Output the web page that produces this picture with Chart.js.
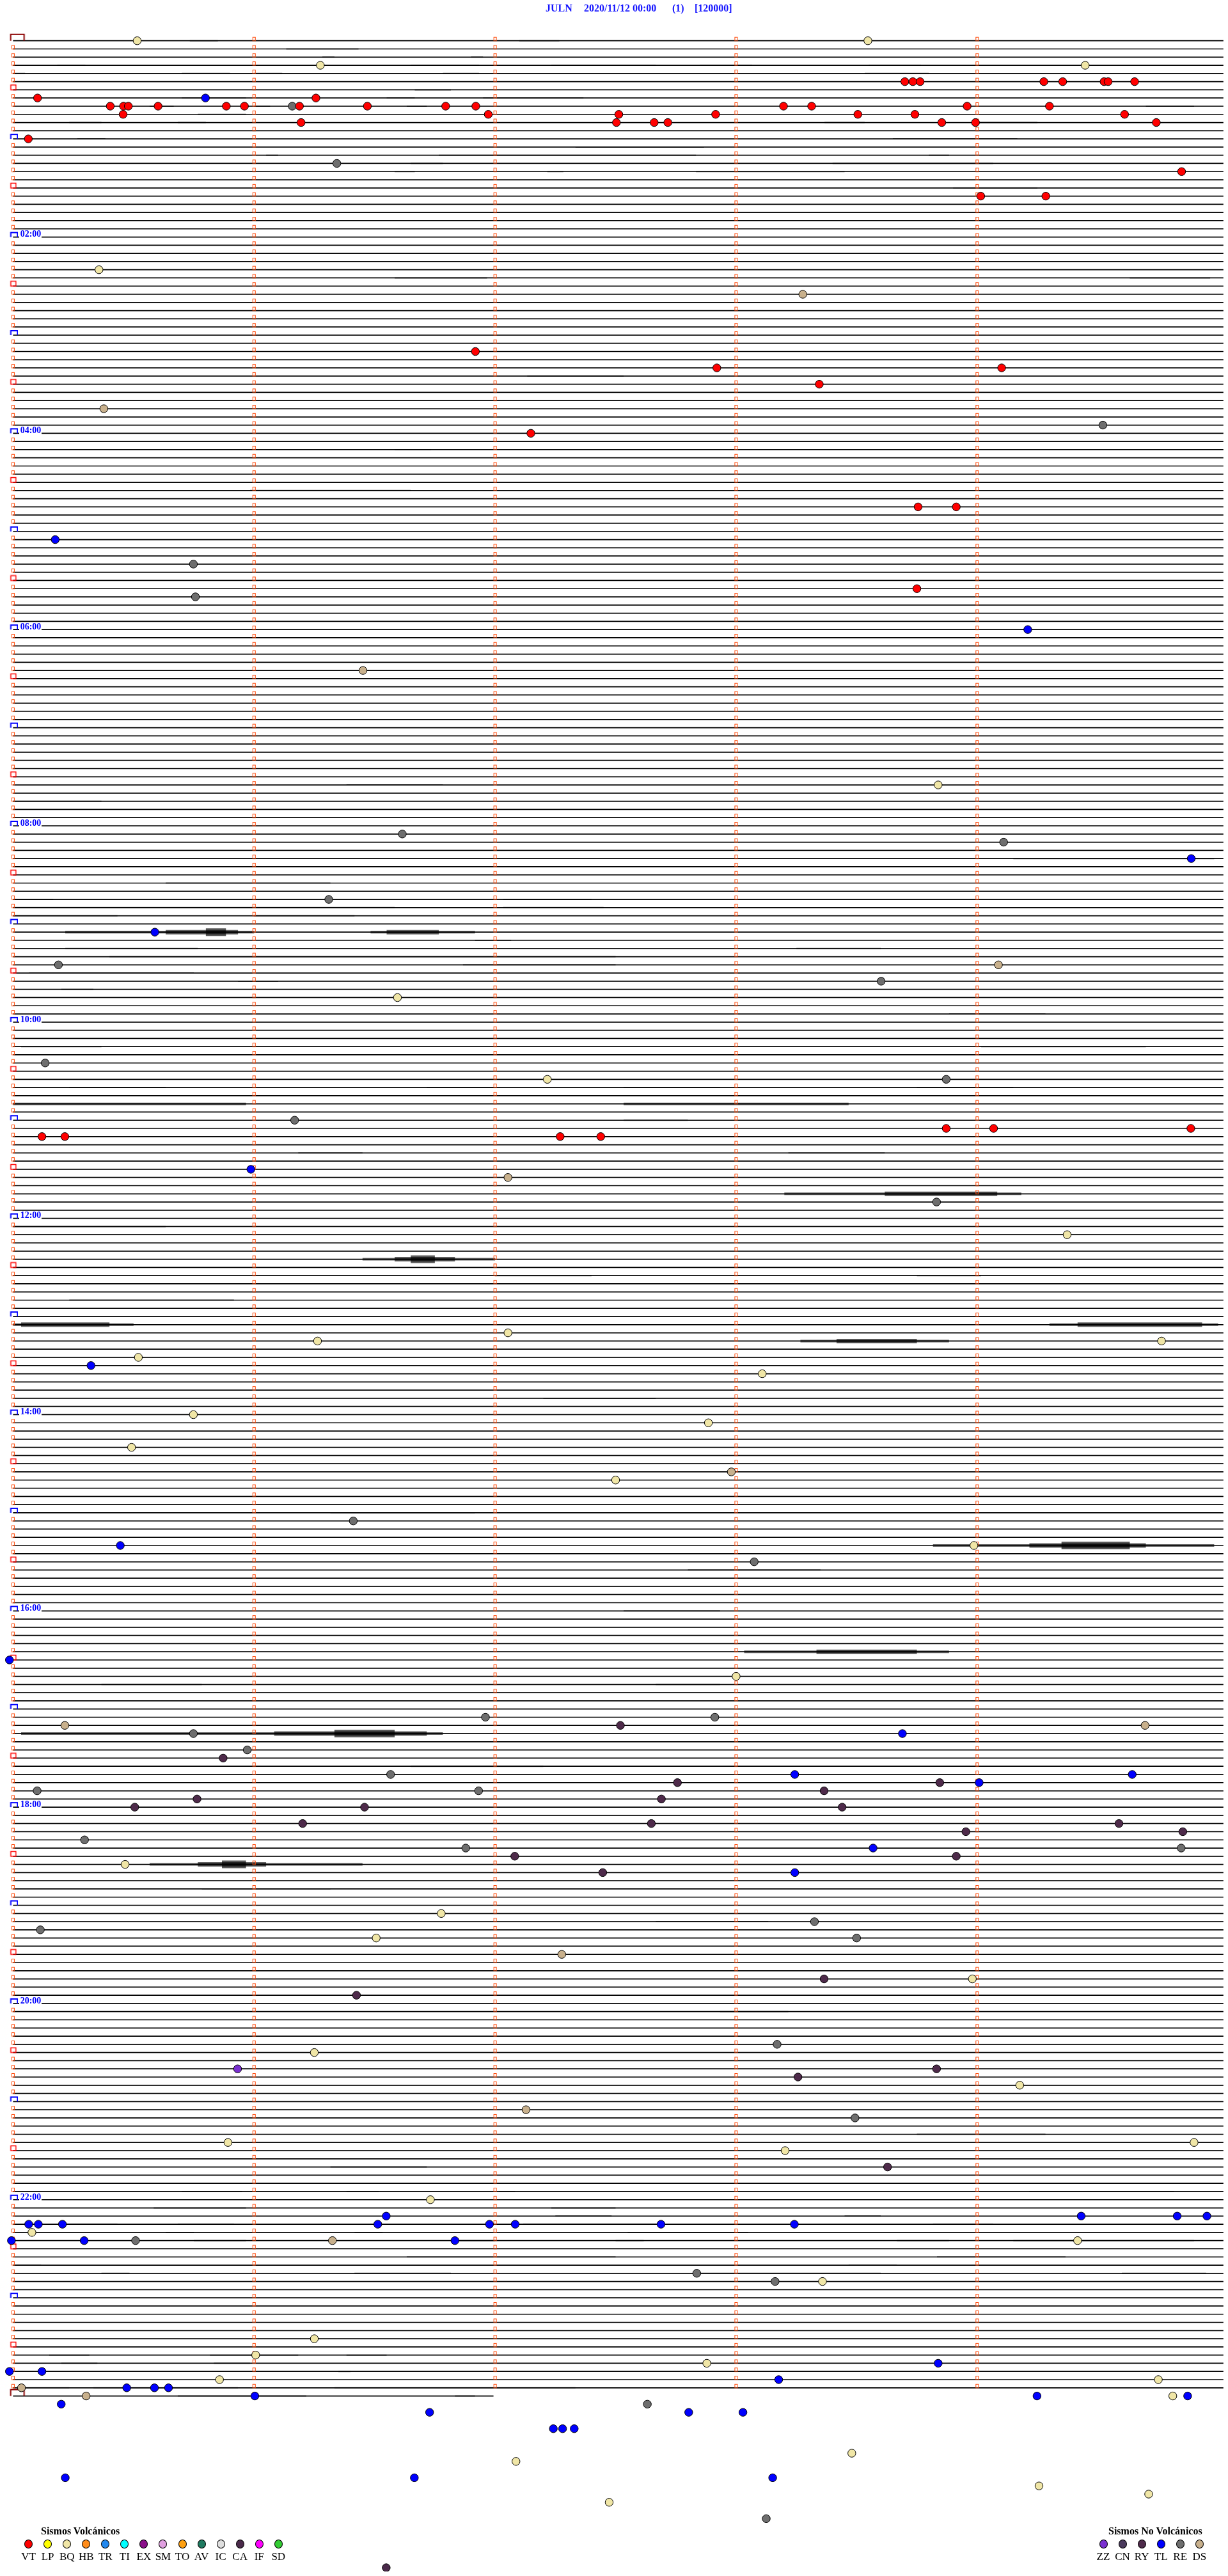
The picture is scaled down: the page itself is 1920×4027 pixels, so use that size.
<!DOCTYPE html>
<html>
<head>
<meta charset="utf-8">
<script src="https://cdn.jsdelivr.net/npm/chart.js@4.4.1/dist/chart.umd.min.js"></script>
<style>
  body { margin: 0; background: #fff; }
  #wrap { position: relative; width: 1920px; height: 4027px; overflow: hidden; }
  #c { position: absolute; left: 0; top: 0; }
  .t { position: absolute; font-family: "Liberation Serif", "Times New Roman", serif; white-space: nowrap; }
  .dot { position: absolute; width: 11px; height: 12px; border: 1px solid #000; border-radius: 50%; }
</style>
</head>
<body>
<div id="wrap"><canvas id="c" width="1920" height="4027"></canvas></div>
<script>
// one trace = 5 minutes (0..300 s), 288 traces + the start of the next day
const FULL_LINES = 288;
const LAST_LINE_END = 119.6;
const MINUTE_TICKS = [0, 60, 120, 180, 240];
const HOUR_LABELS = ['02:00', '04:00', '06:00', '08:00', '10:00', '12:00', '14:00', '16:00', '18:00', '20:00', '22:00'];

const CODES_V = ['VT', 'LP', 'BQ', 'HB', 'TR', 'TI', 'EX', 'SM', 'TO', 'AV', 'IC', 'CA', 'IF', 'SD'];
const COLORS_V = ['#ff0000', '#ffff00', '#f0e6a6', '#ff8c1a', '#2288ee', '#00ffff', '#8b108b', '#e0a0e0', '#ffa010', '#1f7a60', '#dedede', '#4a2a4a', '#ff00ff', '#33cc33'];
const CODES_N = ['ZZ', 'CN', 'RY', 'TL', 'RE', 'DS'];
const COLORS_N = ['#7a30d0', '#4a3a5c', '#4e2a4a', '#0000ff', '#6e6e6e', '#c8b08c'];

// events: [trace, seconds]
const eventsVT = [
  [5,222.0],[5,224.0],[5,225.8],[5,256.6],[5,261.3],[5,271.6],[5,272.6],[5,279.2],
  [7,6.1],[7,75.4],
  [8,24.2],[8,27.5],[8,28.7],[8,36.1],[8,53.1],[8,57.6],[8,71.3],[8,88.2],[8,107.7],[8,115.2],[8,191.8],[8,198.8],[8,237.5],[8,258.0],
  [9,27.4],[9,118.3],[9,150.8],[9,174.9],[9,210.3],[9,224.5],[9,276.7],
  [10,71.7],[10,150.2],[10,159.6],[10,163.0],[10,231.2],[10,239.6],[10,284.6],
  [12,3.8],[16,290.9],[19,240.9],[19,257.1],[38,115.1],[40,175.2],[40,246.1],[42,200.7],[48,128.9],
  [57,225.3],[57,234.8],[67,225.0],
  [133,232.3],[133,244.1],[133,293.2],[134,7.2],[134,12.9],[134,136.2],[134,146.3]
];
const eventsTL = [
  [7,47.9],[61,10.5],[72,252.6],[100,293.3],[109,35.3],[138,59.2],[162,19.4],[184,26.7],[198,-0.9],
  [207,221.4],[212,194.6],[212,278.6],[213,240.5],[221,214.1],[224,194.6],
  [266,92.9],[266,265.9],[266,289.8],[266,297.2],
  [267,3.9],[267,6.3],[267,12.3],[267,90.8],[267,118.6],[267,125.0],[267,161.3],[267,194.5],
  [269,-0.4],[269,17.7],[269,110.0],[284,230.3],[285,-0.9],[285,7.2],[286,190.6],
  [287,28.3],[287,35.2],[287,38.7],[288,60.2],[288,254.9],[288,292.4],
  [289,12.0],[290,103.7],[290,168.2],[290,181.7],[292,134.5],[292,136.8],[292,139.7],
  [298,13.0],[298,99.9],[298,189.1]
];
const eventsRE = [
  [8,69.5],[15,80.6],[47,271.3],[64,44.9],[68,45.4],[97,96.9],[98,246.6],[105,78.6],[113,11.3],[115,216.1],
  [125,8.0],[127,232.3],[132,70.1],[142,229.9],[181,84.7],[186,184.5],[205,117.6],[205,174.7],[207,44.9],
  [209,58.3],[212,94.0],[214,6.0],[214,115.9],[220,17.8],[221,290.8],[221,112.7],[230,199.5],[231,6.8],
  [232,210.0],[245,190.2],[254,209.6],[269,30.5],[273,170.2],[274,189.7],[289,157.9],[303,187.5]
];
const eventsDS = [
  [31,196.6],[45,22.6],[77,87.1],[113,245.3],[139,123.2],[175,178.8],[206,12.9],[206,281.8],
  [234,136.6],[253,127.7],[269,79.5],[287,2.1],[288,18.2]
];
const eventsBQ = [
  [0,30.9],[0,212.8],[3,76.5],[3,266.9],[28,21.4],[91,230.3],[117,95.7],[127,133.0],[146,262.4],
  [158,123.2],[159,75.8],[159,285.9],[161,31.2],[163,186.5],[168,44.9],[169,173.1],[172,29.5],
  [176,150.0],[184,239.2],[200,180.0],[223,27.9],[229,106.6],[232,90.4],[237,238.8],[246,75.0],
  [250,250.6],[257,53.5],[257,294.0],[258,192.2],[264,103.9],[268,4.7],[269,265.0],[274,201.5],
  [281,75.0],[283,60.4],[284,172.7],[286,51.4],[286,285.1],[288,288.7],[295,208.8],[296,125.2],
  [299,255.4],[300,282.7],[301,148.4]
];
const eventsRY = [
  [206,151.2],[210,52.3],[213,165.4],[213,230.7],[214,201.9],[215,161.4],[215,45.8],[216,30.3],
  [216,87.5],[216,206.4],[218,158.9],[218,275.3],[218,72.1],[219,237.2],[219,291.2],[222,124.9],
  [222,234.8],[224,146.8],[237,201.9],[239,85.5],[248,229.9],[249,195.4],[260,217.7]
];
const eventsZZ = [[248,55.9]];
const eventsCA = [[309,92.9]];

// signal bursts: [trace, start s, end s]
const noiseLight = [
  [0,44,51],[0,126,136],[1,68,86],[2,77,80],[2,114,117],[3,11,18],[3,99,116],[3,134,160],[3,171,184],[3,213,226],
  [4,0,3],[4,42,54],[4,60,67],[4,107,116],[4,212,228],[6,100,109],[7,42,58],[7,93,100],[7,117,142],
  [8,34,40],[8,60,64],[8,98,103],[8,282,294],[9,46,58],[10,14,22],[10,41,48],[10,202,212],[10,239,255],
  [12,16,23],[12,219,250],[13,140,172],[14,63,66],[14,106,170],[14,228,233],[15,99,107],[15,204,244],
  [16,95,100],[16,133,137],[16,170,207],[18,234,255],
  [29,95,118],[29,278,298],[41,128,152],[50,95,104],[55,59,99],[91,83,107],[93,0,22],[100,249,299],[103,38,79],
  [105,0,10],[105,122,144],[106,0,95],[106,122,147],[107,0,26],[107,60,85],[110,115,124],[111,13,46],
  [111,195,216],[112,24,150],[113,112,150],[114,4,45],[115,56,66],[116,12,20],
  [119,233,257],[123,2,22],[123,241,282],[128,14,38],[128,103,120],[128,152,176],[128,225,249],[132,152,168],
  [136,71,87],[136,193,217],[145,0,38],[151,120,144],[151,225,241],[154,14,55],[166,132,160],[180,79,115],
  [187,168,201],[192,152,176],[201,22,47],[201,160,176],[211,99,132],[226,47,79],[230,160,188],[241,176,193],
  [256,225,257],[260,79,103],
  [263,42,57],[263,83,91],[263,121,125],[263,253,289],[265,35,58],[265,134,150],[266,135,149],[266,207,216],
  [267,12,26],[267,41,55],[267,127,162],[267,229,244],[268,38,45],[268,85,92],[268,153,183],
  [269,45,58],[269,111,120],[269,150,157],[269,220,233],[269,249,294],[271,98,150],[271,230,262],
  [272,0,7],[272,208,220],[273,22,29],[273,85,109],[273,170,216],[273,276,297],
  [283,9,19],[283,49,71],[283,83,93],[284,12,21],[284,50,59],[285,81,84],
  [287,3,14],[287,20,56],[287,80,140],[288,41,73],[288,110,115]
];
const noiseMedium = [
  [109,13,60],[109,89,115],[130,0,58],[130,152,208],[141,192,251],[149,87,120],[157,0,30],[157,258,300],
  [159,196,233],[184,229,299],[197,182,233],[207,2,107],[223,34,87]
];
const noiseStrong = [
  [109,38,56],[109,93,106],[141,217,245],[149,95,110],[157,2,24],[157,265,296],[159,205,225],
  [184,253,282],[197,200,225],[207,65,103],[223,46,63]
];
const noisePeak = [[109,48,53],[149,99,105],[184,261,278],[207,80,95],[223,52,58]];

// ---------- build ----------
function segs(list) {
  const out = [];
  list.forEach(([ln, a, b]) => { out.push({x: a, y: ln}, {x: b, y: ln}, {x: b, y: null}); });
  return out;
}
const baseList = [];
for (let i = 0; i < FULL_LINES; i++) baseList.push([i, 0, 301.4]);
baseList.push([FULL_LINES, 0, LAST_LINE_END]);

function mk(w, h, draw) {
  const c = document.createElement('canvas');
  c.width = w; c.height = h;
  draw(c.getContext('2d'));
  return c;
}
const minuteMark = mk(7, 14, g => { g.strokeStyle = '#ff4a0a'; g.lineWidth = 1; g.strokeRect(1.5, 1.5, 4, 5.5); });
const halfMark = mk(12, 18, g => { g.strokeStyle = '#ff0000'; g.lineWidth = 1.5; g.strokeRect(2.5, 1.5, 8, 7.5); });
const hourMark = mk(16, 18, g => {
  g.strokeStyle = '#0000ff'; g.lineWidth = 2;
  g.beginPath(); g.moveTo(4.5, 9); g.lineTo(4.5, 2); g.lineTo(15, 2); g.lineTo(15, 9); g.stroke();
});
const dayMark = mk(44, 24, g => {
  g.strokeStyle = '#8b0000'; g.lineWidth = 2;
  g.beginPath(); g.moveTo(18.3, 12); g.lineTo(18.3, 2); g.lineTo(39.3, 2); g.lineTo(39.3, 12); g.stroke();
});

const minutePts = [], halfPts = [], hourPts = [], dayPts = [{x: 0, y: 0}, {x: 0, y: FULL_LINES}];
for (let i = 0; i < FULL_LINES; i++) {
  MINUTE_TICKS.forEach(t => {
    if (t === 0) {
      if (i === 0) return;
      if (i % 12 === 0) { hourPts.push({x: 0, y: i}); return; }
      if (i % 12 === 6) { halfPts.push({x: 0, y: i}); return; }
    }
    minutePts.push({x: t, y: i});
  });
}
minutePts.push({x: 60, y: FULL_LINES});

const datasets = [
  {data: segs(baseList), showLine: true, borderColor: '#000', borderWidth: 1.7, pointRadius: 0, spanGaps: false, order: 9},
  {data: segs(noiseLight), showLine: true, borderColor: 'rgba(0,0,0,0.5)', borderWidth: 2, pointRadius: 0, spanGaps: false, order: 8},
  {data: segs(noiseMedium), showLine: true, borderColor: 'rgba(0,0,0,0.6)', borderWidth: 4, pointRadius: 0, spanGaps: false, order: 7},
  {data: segs(noiseStrong), showLine: true, borderColor: 'rgba(0,0,0,0.6)', borderWidth: 7, pointRadius: 0, spanGaps: false, order: 6},
  {data: segs(noisePeak), showLine: true, borderColor: 'rgba(0,0,0,0.65)', borderWidth: 12, pointRadius: 0, spanGaps: false, order: 5},
  {data: minutePts, pointStyle: minuteMark, order: 4},
  {data: halfPts, pointStyle: halfMark, order: 4},
  {data: hourPts, pointStyle: hourMark, order: 4},
  {data: dayPts, pointStyle: dayMark, order: 4}
];

const eventSets = {VT: eventsVT, BQ: eventsBQ, RE: eventsRE, DS: eventsDS, RY: eventsRY, ZZ: eventsZZ, CA: eventsCA, TL: eventsTL};
const colorOf = {};
CODES_V.forEach((c, i) => colorOf[c] = COLORS_V[i]);
CODES_N.forEach((c, i) => colorOf[c] = COLORS_N[i]);
Object.keys(eventSets).forEach(code => {
  datasets.push({
    label: code,
    data: eventSets[code].map(([ln, t]) => ({x: t, y: ln})),
    pointRadius: 6.2, pointBackgroundColor: colorOf[code], pointBorderColor: '#000', pointBorderWidth: 1, order: 1
  });
});

const chart = new Chart(document.getElementById('c'), {
  type: 'scatter',
  data: {datasets},
  options: {
    responsive: false, animation: false, devicePixelRatio: 1,
    layout: {padding: 0},
    plugins: {legend: {display: false}, tooltip: {enabled: false}},
    events: [],
    scales: {
      x: {type: 'linear', min: -2.1, max: 301.3, display: false},
      y: {type: 'linear', min: -4.42, max: 309.45, reverse: true, display: false}
    }
  }
});

// ---------- text ----------
const wrap = document.getElementById('wrap');
function addText(txt, left, top, css) {
  const d = document.createElement('div');
  d.className = 't';
  d.textContent = txt;
  d.style.left = left + 'px';
  d.style.top = top + 'px';
  Object.assign(d.style, css || {});
  wrap.appendChild(d);
  return d;
}
const titleCss = {fontSize: '16px', fontWeight: 'bold', color: '#1414ff', lineHeight: '16px'};
addText('JULN', 853, 5, titleCss);
addText('2020/11/12 00:00', 913, 5, titleCss);
addText('(1)', 1051, 5, titleCss);
addText('[120000]', 1086, 5, titleCss);

HOUR_LABELS.forEach((lab, k) => {
  const y = chart.scales.y.getPixelForValue((k + 1) * 24);
  addText(lab, 30, y - 11.2, {fontSize: '14px', fontWeight: 'bold', color: '#0000ff', lineHeight: '13px',
    background: '#fff', paddingLeft: '1.7px', width: '33px'});
});

// legends
function legend(title, titleLeft, codes, colors, x0) {
  addText(title, titleLeft, 3948.6, {fontSize: '16px', fontWeight: 'bold', lineHeight: '16px'});
  codes.forEach((c, i) => {
    const cx = x0 + i * 30.05;
    const d = document.createElement('div');
    d.className = 'dot';
    d.style.left = (cx - 6.5) + 'px';
    d.style.top = (3977 - 7) + 'px';
    d.style.background = colors[i];
    wrap.appendChild(d);
    addText(c, cx - 20, 3988, {fontSize: '17px', lineHeight: '17px', width: '40px', textAlign: 'center'});
  });
}
legend('Sismos Volcánicos', 64, CODES_V, COLORS_V, 44.6);
legend('Sismos No Volcánicos', 1733, CODES_N, COLORS_N, 1725);
</script>
</body>
</html>
